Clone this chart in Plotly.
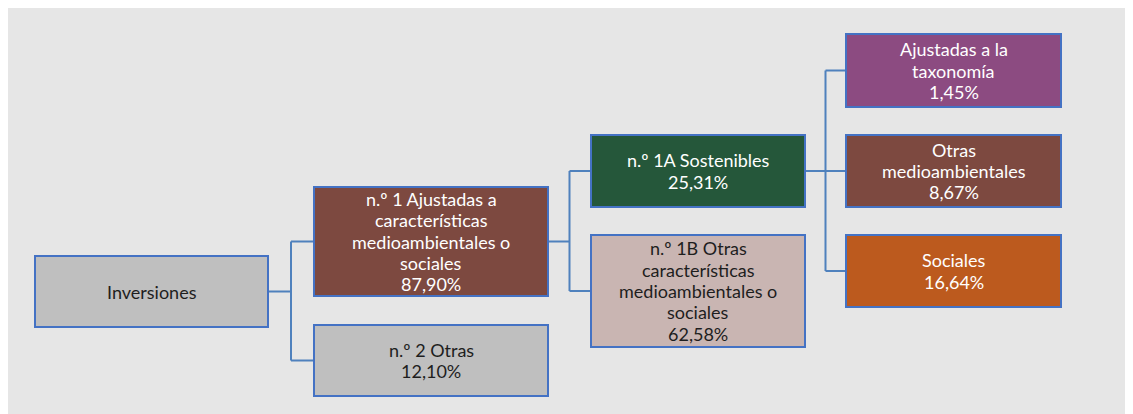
import plotly.graph_objects as go

# ---- data ----
node_names = [
    "Inversiones",
    "n.º 1 Ajustadas a<br>características<br>medioambientales o<br>sociales",
    "n.º 2 Otras",
    "n.º 1A Sostenibles",
    "n.º 1B Otras<br>características<br>medioambientales o<br>sociales",
    "Ajustadas a la<br>taxonomía",
    "Otras<br>medioambientales",
    "Sociales",
]
node_values = [None, 87.90, 12.10, 25.31, 62.58, 1.45, 8.67, 16.64]
node_parents = [None, 0, 0, 1, 1, 3, 3, 3]

# ---- layout / style (page-pixel positions) ----
box_x0 = [35, 314, 314, 591, 591, 846, 846, 846]
box_x1 = [268, 548, 548, 805, 805, 1061, 1061, 1061]
box_y0 = [256, 187, 325, 135, 235, 34, 135, 235]
box_y1 = [327, 296, 396, 207, 347, 107, 207, 307]
box_fill = ["#BFBFBF", "#7D4940", "#BFBFBF", "#25573A", "#C9B5B2", "#8C4B81", "#7D4940", "#BC5A1E"]
text_col = ["#1E1E1E", "#FFFFFF", "#1E1E1E", "#FFFFFF", "#1E1E1E", "#FFFFFF", "#FFFFFF", "#FFFFFF"]

W, H = 1133, 414
OFF = 8  # page body margin
FONT = "Lato"
FS = 18
LINE_H = 21.3
BORDER = "#4472C4"
CONN = "#4F81BD"

fig = go.Figure()
shapes = []
annotations = []

# background panel
shapes.append(dict(type="rect", xref="x", yref="y", x0=8, x1=W + 20, y0=6, y1=H + 20,
                   fillcolor="#E6E6E6", line=dict(width=0), layer="below"))

def fmt(v):
    return f"{v:.2f}".replace(".", ",") + "%"

# connectors
for p in range(len(node_names)):
    kids = [i for i, par in enumerate(node_parents) if par == p]
    if not kids:
        continue
    px = box_x1[p]
    py = (box_y0[p] + box_y1[p]) / 2
    cx = box_x0[kids[0]]
    ex = (px + cx) / 2
    mids = [(box_y0[k] + box_y1[k]) / 2 for k in kids]
    shapes.append(dict(type="line", xref="x", yref="y", x0=px, x1=ex, y0=py, y1=py,
                       line=dict(color=CONN, width=2)))
    shapes.append(dict(type="line", xref="x", yref="y", x0=ex, x1=ex, y0=min(mids), y1=max(mids),
                       line=dict(color=CONN, width=2)))
    for k, m in zip(kids, mids):
        shapes.append(dict(type="line", xref="x", yref="y", x0=ex, x1=box_x0[k], y0=m, y1=m,
                           line=dict(color=CONN, width=2)))

# boxes and labels
for i, name in enumerate(node_names):
    shapes.append(dict(type="rect", xref="x", yref="y",
                       x0=box_x0[i], x1=box_x1[i], y0=box_y0[i], y1=box_y1[i],
                       fillcolor=box_fill[i], line=dict(color=BORDER, width=2)))
    lines = name.split("<br>")
    if node_values[i] is not None:
        lines.append(fmt(node_values[i]))
    cx = (box_x0[i] + box_x1[i]) / 2
    cy = (box_y0[i] + box_y1[i]) / 2
    n = len(lines)
    for j, ln in enumerate(lines):
        annotations.append(dict(x=cx, y=cy + (j - (n - 1) / 2) * LINE_H,
                                xref="x", yref="y", text=ln, showarrow=False,
                                font=dict(family=FONT, size=FS, color=text_col[i]),
                                align="center", xanchor="center", yanchor="middle"))

# invisible trace to establish axes
fig.add_trace(go.Scatter(x=[OFF, W], y=[OFF, H], mode="markers", marker=dict(opacity=0),
                         hoverinfo="skip", showlegend=False))

fig.update_layout(
    width=W - OFF, height=H,
    margin=dict(l=0, r=0, t=0, b=0),
    paper_bgcolor="#FFFFFF", plot_bgcolor="#FFFFFF",
    shapes=shapes, annotations=annotations,
    xaxis=dict(range=[OFF, W], visible=False, fixedrange=True),
    yaxis=dict(range=[H + OFF, OFF], visible=False, fixedrange=True),
    showlegend=False,
)

fig.write_html("out.html")
